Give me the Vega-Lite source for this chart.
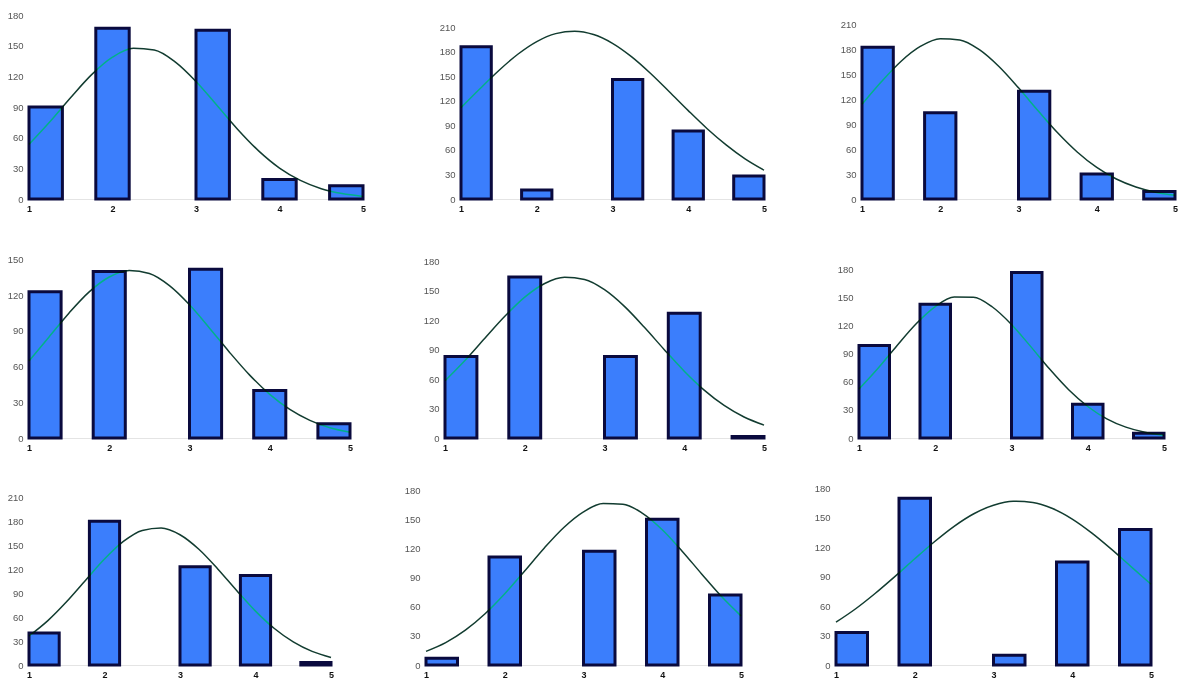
{
  "$schema": "https://vega.github.io/schema/vega-lite/v6.json",
  "padding": {"left": 7, "top": 10, "right": 0, "bottom": 0},
  "background": "white",
  "datasets": {
    "bars": [
      {"value": 1, "bin_start": 1.0, "bin_end": 1.4, "P1": 90, "P2": 186, "P3": 183, "P4": 123, "P5": 83, "P6": 99, "P7": 40, "P8": 7, "P9": 33},
      {"value": 2, "bin_start": 1.8, "bin_end": 2.2, "P1": 167, "P2": 11, "P3": 104, "P4": 140, "P5": 164, "P6": 143, "P7": 180, "P8": 111, "P9": 170},
      {"value": 3, "bin_start": 3.0, "bin_end": 3.4, "P1": 165, "P2": 146, "P3": 130, "P4": 142, "P5": 83, "P6": 177, "P7": 123, "P8": 117, "P9": 10},
      {"value": 4, "bin_start": 3.8, "bin_end": 4.2, "P1": 19, "P2": 83, "P3": 30, "P4": 40, "P5": 127, "P6": 36, "P7": 112, "P8": 150, "P9": 105},
      {"value": 5, "bin_start": 4.6, "bin_end": 5.0, "P1": 13, "P2": 28, "P3": 9, "P4": 12, "P5": 1.5, "P6": 5, "P7": 3, "P8": 72, "P9": 138}
    ],
    "curve": [
      {"x": 1.00, "P1": 53.4, "P2": 111.6, "P3": 114.1, "P4": 64.8, "P5": 58.3, "P6": 52.4, "P7": 36.3, "P8": 14.0, "P9": 43.6},
      {"x": 1.25, "P1": 75.5, "P2": 134.7, "P3": 141.6, "P4": 85.0, "P5": 79.0, "P6": 74.6, "P7": 55.6, "P8": 23.0, "P9": 57.3},
      {"x": 1.50, "P1": 99.3, "P2": 157.0, "P3": 166.1, "P4": 105.2, "P5": 101.7, "P6": 99.0, "P7": 79.5, "P8": 35.8, "P9": 73.1},
      {"x": 1.75, "P1": 121.7, "P2": 176.8, "P3": 184.2, "P4": 122.9, "P5": 124.0, "P6": 122.2, "P7": 106.3, "P8": 52.7, "P9": 90.3},
      {"x": 2.00, "P1": 138.8, "P2": 192.3, "P3": 193.3, "P4": 135.4, "P5": 143.5, "P6": 140.6, "P7": 132.7, "P8": 73.3, "P9": 108.2},
      {"x": 2.25, "P1": 147.4, "P2": 202.0, "P3": 191.8, "P4": 140.9, "P5": 157.4, "P6": 150.8, "P7": 154.8, "P8": 96.5, "P9": 125.6},
      {"x": 2.50, "P1": 145.7, "P2": 205.0, "P3": 180.0, "P4": 138.3, "P5": 163.7, "P6": 150.6, "P7": 168.6, "P8": 120.2, "P9": 141.3},
      {"x": 2.75, "P1": 134.1, "P2": 200.9, "P3": 159.7, "P4": 128.1, "P5": 161.5, "P6": 140.1, "P7": 171.7, "P8": 141.5, "P9": 154.1},
      {"x": 3.00, "P1": 114.9, "P2": 190.2, "P3": 134.0, "P4": 112.0, "P5": 151.1, "P6": 121.4, "P7": 163.2, "P8": 157.6, "P9": 162.8},
      {"x": 3.25, "P1": 91.7, "P2": 173.9, "P3": 106.4, "P4": 92.4, "P5": 134.1, "P6": 98.0, "P7": 145.0, "P8": 166.1, "P9": 166.8},
      {"x": 3.50, "P1": 68.1, "P2": 153.6, "P3": 79.8, "P4": 72.0, "P5": 112.8, "P6": 73.7, "P7": 120.3, "P8": 165.5, "P9": 165.6},
      {"x": 3.75, "P1": 47.1, "P2": 131.0, "P3": 56.7, "P4": 52.9, "P5": 90.0, "P6": 51.6, "P7": 93.3, "P8": 156.1, "P9": 159.4},
      {"x": 4.00, "P1": 30.3, "P2": 108.0, "P3": 38.0, "P4": 36.7, "P5": 68.1, "P6": 33.7, "P7": 67.5, "P8": 139.2, "P9": 148.7},
      {"x": 4.25, "P1": 18.2, "P2": 85.9, "P3": 24.1, "P4": 24.0, "P5": 48.8, "P6": 20.5, "P7": 45.7, "P8": 117.4, "P9": 134.4},
      {"x": 4.50, "P1": 10.1, "P2": 66.1, "P3": 14.5, "P4": 14.8, "P5": 33.2, "P6": 11.6, "P7": 28.9, "P8": 93.7, "P9": 117.8},
      {"x": 4.75, "P1": 5.3, "P2": 49.0, "P3": 8.2, "P4": 8.6, "P5": 21.4, "P6": 6.1, "P7": 17.0, "P8": 70.7, "P9": 100.0},
      {"x": 5.00, "P1": 2.5, "P2": 35.2, "P3": 4.4, "P4": 4.8, "P5": 13.1, "P6": 3.0, "P7": 9.4, "P8": 50.5, "P9": 82.3}
    ]
  },
  "config": {
    "view": {"stroke": null},
    "axis": {"grid": false, "ticks": false, "title": null, "labelFont": "Liberation Sans"},
    "axisX": {"domain": true, "domainColor": "#e4e4e4", "domainWidth": 1, "labelFontSize": 9, "labelFontWeight": "bold", "labelColor": "#111111", "labelPadding": 5, "labelFlush": false},
    "axisY": {"domain": false, "labelFontSize": 9.5, "labelColor": "#555555", "labelPadding": 6},
    "rect": {"fill": "#3b7efc", "stroke": "#0a0a3e", "strokeWidth": 3},
    "line": {"interpolate": "monotone", "strokeWidth": 1.5}
  },
  "spacing": 41,
  "vconcat": [
    {
      "bounds": "flush",
      "spacing": 98,
      "hconcat": [
        {"width": 334, "height": 185, "layer": [
          {"data": {"name": "curve"}, "mark": {"type": "line", "color": "#133d25"}, "encoding": {"x": {"field": "x", "type": "quantitative", "scale": {"domain": [1, 5], "nice": false, "zero": false}, "axis": {"values": [1, 2, 3, 4, 5], "format": "d"}}, "y": {"field": "P1", "type": "quantitative", "scale": {"domain": [0, 181], "nice": false}, "axis": {"values": [0, 30, 60, 90, 120, 150, 180]}}}},
          {"data": {"name": "bars"}, "mark": {"type": "rect"}, "encoding": {"x": {"field": "bin_start", "type": "quantitative", "scale": {"domain": [1, 5], "nice": false, "zero": false}, "axis": {"values": [1, 2, 3, 4, 5], "format": "d"}}, "x2": {"field": "bin_end"}, "y": {"field": "P1", "type": "quantitative", "scale": {"domain": [0, 181], "nice": false}, "axis": {"values": [0, 30, 60, 90, 120, 150, 180]}}, "y2": {"datum": 0}}},
          {"data": {"name": "curve"}, "mark": {"type": "line", "color": "#00d8a8", "blend": "hue"}, "encoding": {"x": {"field": "x", "type": "quantitative", "scale": {"domain": [1, 5], "nice": false, "zero": false}, "axis": {"values": [1, 2, 3, 4, 5], "format": "d"}}, "y": {"field": "P1", "type": "quantitative", "scale": {"domain": [0, 181], "nice": false}, "axis": {"values": [0, 30, 60, 90, 120, 150, 180]}}}}
        ]},
        {"width": 303, "height": 185, "layer": [
          {"data": {"name": "curve"}, "mark": {"type": "line", "color": "#133d25"}, "encoding": {"x": {"field": "x", "type": "quantitative", "scale": {"domain": [1, 5], "nice": false, "zero": false}, "axis": {"values": [1, 2, 3, 4, 5], "format": "d"}}, "y": {"field": "P2", "type": "quantitative", "scale": {"domain": [0, 226], "nice": false}, "axis": {"values": [0, 30, 60, 90, 120, 150, 180, 210]}}}},
          {"data": {"name": "bars"}, "mark": {"type": "rect"}, "encoding": {"x": {"field": "bin_start", "type": "quantitative", "scale": {"domain": [1, 5], "nice": false, "zero": false}, "axis": {"values": [1, 2, 3, 4, 5], "format": "d"}}, "x2": {"field": "bin_end"}, "y": {"field": "P2", "type": "quantitative", "scale": {"domain": [0, 226], "nice": false}, "axis": {"values": [0, 30, 60, 90, 120, 150, 180, 210]}}, "y2": {"datum": 0}}},
          {"data": {"name": "curve"}, "mark": {"type": "line", "color": "#00d8a8", "blend": "hue"}, "encoding": {"x": {"field": "x", "type": "quantitative", "scale": {"domain": [1, 5], "nice": false, "zero": false}, "axis": {"values": [1, 2, 3, 4, 5], "format": "d"}}, "y": {"field": "P2", "type": "quantitative", "scale": {"domain": [0, 226], "nice": false}, "axis": {"values": [0, 30, 60, 90, 120, 150, 180, 210]}}}}
        ]},
        {"width": 313, "height": 185, "layer": [
          {"data": {"name": "curve"}, "mark": {"type": "line", "color": "#133d25"}, "encoding": {"x": {"field": "x", "type": "quantitative", "scale": {"domain": [1, 5], "nice": false, "zero": false}, "axis": {"values": [1, 2, 3, 4, 5], "format": "d"}}, "y": {"field": "P3", "type": "quantitative", "scale": {"domain": [0, 223], "nice": false}, "axis": {"values": [0, 30, 60, 90, 120, 150, 180, 210]}}}},
          {"data": {"name": "bars"}, "mark": {"type": "rect"}, "encoding": {"x": {"field": "bin_start", "type": "quantitative", "scale": {"domain": [1, 5], "nice": false, "zero": false}, "axis": {"values": [1, 2, 3, 4, 5], "format": "d"}}, "x2": {"field": "bin_end"}, "y": {"field": "P3", "type": "quantitative", "scale": {"domain": [0, 223], "nice": false}, "axis": {"values": [0, 30, 60, 90, 120, 150, 180, 210]}}, "y2": {"datum": 0}}},
          {"data": {"name": "curve"}, "mark": {"type": "line", "color": "#00d8a8", "blend": "hue"}, "encoding": {"x": {"field": "x", "type": "quantitative", "scale": {"domain": [1, 5], "nice": false, "zero": false}, "axis": {"values": [1, 2, 3, 4, 5], "format": "d"}}, "y": {"field": "P3", "type": "quantitative", "scale": {"domain": [0, 223], "nice": false}, "axis": {"values": [0, 30, 60, 90, 120, 150, 180, 210]}}}}
        ]}
      ]
    },
    {
      "spacing": 31,
      "vconcat": [
        {
          "bounds": "flush",
          "spacing": 95,
          "hconcat": [
            {"width": 321, "height": 180, "layer": [
              {"data": {"name": "curve"}, "mark": {"type": "line", "color": "#133d25"}, "encoding": {"x": {"field": "x", "type": "quantitative", "scale": {"domain": [1, 5], "nice": false, "zero": false}, "axis": {"values": [1, 2, 3, 4, 5], "format": "d"}}, "y": {"field": "P4", "type": "quantitative", "scale": {"domain": [0, 151.4], "nice": false}, "axis": {"values": [0, 30, 60, 90, 120, 150]}}}},
              {"data": {"name": "bars"}, "mark": {"type": "rect"}, "encoding": {"x": {"field": "bin_start", "type": "quantitative", "scale": {"domain": [1, 5], "nice": false, "zero": false}, "axis": {"values": [1, 2, 3, 4, 5], "format": "d"}}, "x2": {"field": "bin_end"}, "y": {"field": "P4", "type": "quantitative", "scale": {"domain": [0, 151.4], "nice": false}, "axis": {"values": [0, 30, 60, 90, 120, 150]}}, "y2": {"datum": 0}}},
              {"data": {"name": "curve"}, "mark": {"type": "line", "color": "#00d8a8", "blend": "hue"}, "encoding": {"x": {"field": "x", "type": "quantitative", "scale": {"domain": [1, 5], "nice": false, "zero": false}, "axis": {"values": [1, 2, 3, 4, 5], "format": "d"}}, "y": {"field": "P4", "type": "quantitative", "scale": {"domain": [0, 151.4], "nice": false}, "axis": {"values": [0, 30, 60, 90, 120, 150]}}}}
            ]},
            {"width": 319, "height": 180, "layer": [
              {"data": {"name": "curve"}, "mark": {"type": "line", "color": "#133d25"}, "encoding": {"x": {"field": "x", "type": "quantitative", "scale": {"domain": [1, 5], "nice": false, "zero": false}, "axis": {"values": [1, 2, 3, 4, 5], "format": "d"}}, "y": {"field": "P5", "type": "quantitative", "scale": {"domain": [0, 183.4], "nice": false}, "axis": {"values": [0, 30, 60, 90, 120, 150, 180]}}}},
              {"data": {"name": "bars"}, "mark": {"type": "rect"}, "encoding": {"x": {"field": "bin_start", "type": "quantitative", "scale": {"domain": [1, 5], "nice": false, "zero": false}, "axis": {"values": [1, 2, 3, 4, 5], "format": "d"}}, "x2": {"field": "bin_end"}, "y": {"field": "P5", "type": "quantitative", "scale": {"domain": [0, 183.4], "nice": false}, "axis": {"values": [0, 30, 60, 90, 120, 150, 180]}}, "y2": {"datum": 0}}},
              {"data": {"name": "curve"}, "mark": {"type": "line", "color": "#00d8a8", "blend": "hue"}, "encoding": {"x": {"field": "x", "type": "quantitative", "scale": {"domain": [1, 5], "nice": false, "zero": false}, "axis": {"values": [1, 2, 3, 4, 5], "format": "d"}}, "y": {"field": "P5", "type": "quantitative", "scale": {"domain": [0, 183.4], "nice": false}, "axis": {"values": [0, 30, 60, 90, 120, 150, 180]}}}}
            ]},
            {"width": 305, "height": 180, "layer": [
              {"data": {"name": "curve"}, "mark": {"type": "line", "color": "#133d25"}, "encoding": {"x": {"field": "x", "type": "quantitative", "scale": {"domain": [1, 5], "nice": false, "zero": false}, "axis": {"values": [1, 2, 3, 4, 5], "format": "d"}}, "y": {"field": "P6", "type": "quantitative", "scale": {"domain": [0, 192.5], "nice": false}, "axis": {"values": [0, 30, 60, 90, 120, 150, 180]}}}},
              {"data": {"name": "bars"}, "mark": {"type": "rect"}, "encoding": {"x": {"field": "bin_start", "type": "quantitative", "scale": {"domain": [1, 5], "nice": false, "zero": false}, "axis": {"values": [1, 2, 3, 4, 5], "format": "d"}}, "x2": {"field": "bin_end"}, "y": {"field": "P6", "type": "quantitative", "scale": {"domain": [0, 192.5], "nice": false}, "axis": {"values": [0, 30, 60, 90, 120, 150, 180]}}, "y2": {"datum": 0}}},
              {"data": {"name": "curve"}, "mark": {"type": "line", "color": "#00d8a8", "blend": "hue"}, "encoding": {"x": {"field": "x", "type": "quantitative", "scale": {"domain": [1, 5], "nice": false, "zero": false}, "axis": {"values": [1, 2, 3, 4, 5], "format": "d"}}, "y": {"field": "P6", "type": "quantitative", "scale": {"domain": [0, 192.5], "nice": false}, "axis": {"values": [0, 30, 60, 90, 120, 150, 180]}}}}
            ]}
          ]
        },
        {
          "bounds": "flush",
          "spacing": 95,
          "hconcat": [
            {"width": 302, "height": 180, "layer": [
              {"data": {"name": "curve"}, "mark": {"type": "line", "color": "#133d25"}, "encoding": {"x": {"field": "x", "type": "quantitative", "scale": {"domain": [1, 5], "nice": false, "zero": false}, "axis": {"values": [1, 2, 3, 4, 5], "format": "d"}}, "y": {"field": "P7", "type": "quantitative", "scale": {"domain": [0, 225.5], "nice": false}, "axis": {"values": [0, 30, 60, 90, 120, 150, 180, 210]}}}},
              {"data": {"name": "bars"}, "mark": {"type": "rect"}, "encoding": {"x": {"field": "bin_start", "type": "quantitative", "scale": {"domain": [1, 5], "nice": false, "zero": false}, "axis": {"values": [1, 2, 3, 4, 5], "format": "d"}}, "x2": {"field": "bin_end"}, "y": {"field": "P7", "type": "quantitative", "scale": {"domain": [0, 225.5], "nice": false}, "axis": {"values": [0, 30, 60, 90, 120, 150, 180, 210]}}, "y2": {"datum": 0}}},
              {"data": {"name": "curve"}, "mark": {"type": "line", "color": "#00d8a8", "blend": "hue"}, "encoding": {"x": {"field": "x", "type": "quantitative", "scale": {"domain": [1, 5], "nice": false, "zero": false}, "axis": {"values": [1, 2, 3, 4, 5], "format": "d"}}, "y": {"field": "P7", "type": "quantitative", "scale": {"domain": [0, 225.5], "nice": false}, "axis": {"values": [0, 30, 60, 90, 120, 150, 180, 210]}}}}
            ]},
            {"width": 315, "height": 180, "layer": [
              {"data": {"name": "curve"}, "mark": {"type": "line", "color": "#133d25"}, "encoding": {"x": {"field": "x", "type": "quantitative", "scale": {"domain": [1, 5], "nice": false, "zero": false}, "axis": {"values": [1, 2, 3, 4, 5], "format": "d"}}, "y": {"field": "P8", "type": "quantitative", "scale": {"domain": [0, 185.2], "nice": false}, "axis": {"values": [0, 30, 60, 90, 120, 150, 180]}}}},
              {"data": {"name": "bars"}, "mark": {"type": "rect"}, "encoding": {"x": {"field": "bin_start", "type": "quantitative", "scale": {"domain": [1, 5], "nice": false, "zero": false}, "axis": {"values": [1, 2, 3, 4, 5], "format": "d"}}, "x2": {"field": "bin_end"}, "y": {"field": "P8", "type": "quantitative", "scale": {"domain": [0, 185.2], "nice": false}, "axis": {"values": [0, 30, 60, 90, 120, 150, 180]}}, "y2": {"datum": 0}}},
              {"data": {"name": "curve"}, "mark": {"type": "line", "color": "#00d8a8", "blend": "hue"}, "encoding": {"x": {"field": "x", "type": "quantitative", "scale": {"domain": [1, 5], "nice": false, "zero": false}, "axis": {"values": [1, 2, 3, 4, 5], "format": "d"}}, "y": {"field": "P8", "type": "quantitative", "scale": {"domain": [0, 185.2], "nice": false}, "axis": {"values": [0, 30, 60, 90, 120, 150, 180]}}}}
            ]},
            {"width": 315, "height": 180, "layer": [
              {"data": {"name": "curve"}, "mark": {"type": "line", "color": "#133d25"}, "encoding": {"x": {"field": "x", "type": "quantitative", "scale": {"domain": [1, 5], "nice": false, "zero": false}, "axis": {"values": [1, 2, 3, 4, 5], "format": "d"}}, "y": {"field": "P9", "type": "quantitative", "scale": {"domain": [0, 183.4], "nice": false}, "axis": {"values": [0, 30, 60, 90, 120, 150, 180]}}}},
              {"data": {"name": "bars"}, "mark": {"type": "rect"}, "encoding": {"x": {"field": "bin_start", "type": "quantitative", "scale": {"domain": [1, 5], "nice": false, "zero": false}, "axis": {"values": [1, 2, 3, 4, 5], "format": "d"}}, "x2": {"field": "bin_end"}, "y": {"field": "P9", "type": "quantitative", "scale": {"domain": [0, 183.4], "nice": false}, "axis": {"values": [0, 30, 60, 90, 120, 150, 180]}}, "y2": {"datum": 0}}},
              {"data": {"name": "curve"}, "mark": {"type": "line", "color": "#00d8a8", "blend": "hue"}, "encoding": {"x": {"field": "x", "type": "quantitative", "scale": {"domain": [1, 5], "nice": false, "zero": false}, "axis": {"values": [1, 2, 3, 4, 5], "format": "d"}}, "y": {"field": "P9", "type": "quantitative", "scale": {"domain": [0, 183.4], "nice": false}, "axis": {"values": [0, 30, 60, 90, 120, 150, 180]}}}}
            ]}
          ]
        }
      ]
    }
  ]
}
